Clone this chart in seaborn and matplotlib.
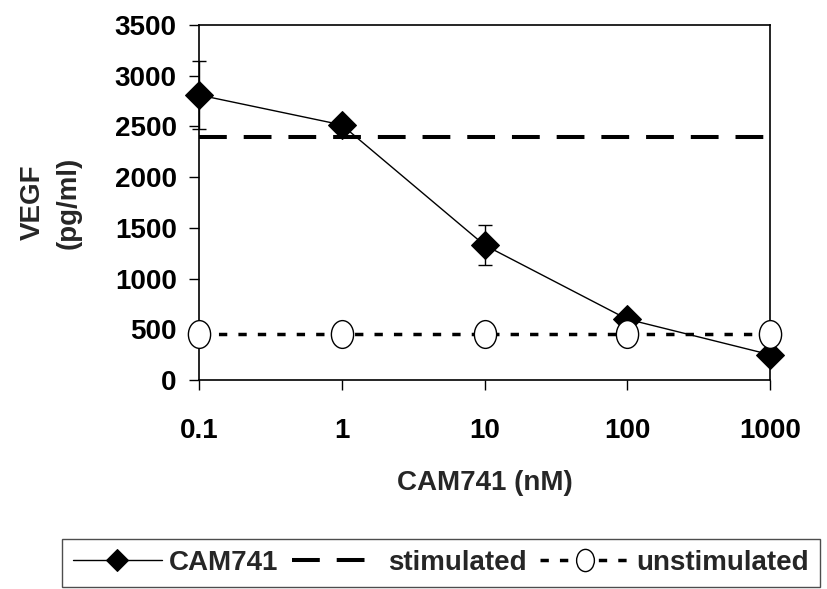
import matplotlib
matplotlib.use("Agg")
import matplotlib.pyplot as plt
import pandas as pd
import seaborn as sns
from matplotlib.path import Path
from matplotlib.transforms import Affine2D
from matplotlib.ticker import NullLocator

# values
concentrations = [0.1, 1, 10, 100, 1000]
conc_labels = ["0.1", "1", "10", "100", "1000"]
cam741 = [2810, 2515, 1330, 600, 250]
cam741_err = [335, 0, 200, 0, 0]
stimulated = [2400, 2400, 2400, 2400, 2400]
unstimulated = [455, 455, 455, 455, 455]
y_ticks = [0, 500, 1000, 1500, 2000, 2500, 3000, 3500]

df = pd.DataFrame({
    "conc": concentrations,
    "CAM741": cam741,
    "stimulated": stimulated,
    "unstimulated": unstimulated,
})

sns.set_theme(style="white")
plt.rcParams["font.family"] = ["Liberation Sans", "DejaVu Sans"]
plt.rcParams["font.weight"] = "bold"
plt.rcParams["font.size"] = 20

fig = plt.figure(figsize=(8.28, 5.89), dpi=100)
ax = fig.add_axes([0.2403, 0.3548, 0.6897, 0.6028])
ax.set_xscale("log")

# egg-shaped open circle like the original
ellipse = Path.unit_circle().transformed(Affine2D().scale(0.8, 1.0))

ax.errorbar(concentrations, cam741, yerr=cam741_err, fmt="none",
            ecolor="black", elinewidth=1.0, capsize=5, capthick=1.0,
            zorder=2, clip_on=False)

sns.lineplot(data=df, x="conc", y="CAM741", ax=ax, color="black",
             linewidth=1.0, marker="D", markersize=14,
             markerfacecolor="black", markeredgecolor="black",
             label="CAM741", zorder=3, clip_on=False, errorbar=None)
sns.lineplot(data=df, x="conc", y="stimulated", ax=ax, color="black",
             linewidth=2.9, linestyle=(0, (6.9, 4.2)),
             label="stimulated", zorder=2, errorbar=None)
sns.lineplot(data=df, x="conc", y="unstimulated", ax=ax, color="black",
             linewidth=2.5, linestyle=(0, (2.4, 3.2)), marker=ellipse,
             markersize=20, markerfacecolor="white",
             markeredgecolor="black", markeredgewidth=1.0,
             label="unstimulated", zorder=4, clip_on=False, errorbar=None)

if ax.get_legend() is not None:
    ax.get_legend().remove()

ax.set_xlim(0.1, 1000)
ax.set_ylim(0, 3500)
ax.set_xticks(concentrations)
ax.set_xticklabels(conc_labels)
ax.xaxis.set_minor_locator(NullLocator())
ax.set_yticks(y_ticks)

for side in ["left", "right", "top", "bottom"]:
    ax.spines[side].set_visible(True)
    ax.spines[side].set_color("black")
    ax.spines[side].set_linewidth(1.2)

ax.tick_params(axis="x", direction="out", length=7, width=1, pad=20,
               labelsize=20, bottom=True, colors="black")
ax.tick_params(axis="y", direction="out", length=7, width=1, pad=9,
               labelsize=20, left=True, colors="black")
for lab in ax.get_xticklabels() + ax.get_yticklabels():
    lab.set_fontweight("bold")

ax.set_xlabel("CAM741 (nM)", fontsize=20, fontweight="bold", labelpad=19)
ax.set_ylabel("VEGF\n(pg/ml)", fontsize=20, fontweight="bold", labelpad=24,
              linespacing=1.5)

handles, labels = ax.get_legend_handles_labels()
fig.legend(handles, labels, loc="center", bbox_to_anchor=(0.5326, 0.0441),
           ncol=3, frameon=True, fancybox=False, edgecolor="0.3",
           framealpha=1, numpoints=1, handlelength=3.2,
           handletextpad=0.25, columnspacing=0.5, borderpad=0.4,
           markerscale=0.8, prop={"weight": "bold", "size": 20})

fig.savefig("out.png", dpi=100)
